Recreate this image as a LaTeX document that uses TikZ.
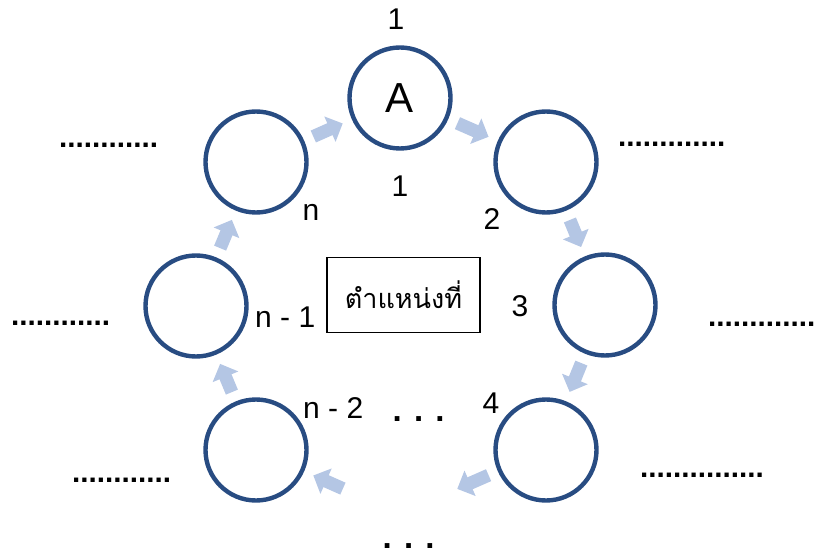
\documentclass[tikz,border=0pt]{standalone}
\usepackage{fontspec}
\setmainfont{Liberation Sans}
\newfontfamily\thaifont[Script=Thai]{Loma}
\usetikzlibrary{arrows.meta,calc}
\definecolor{ringc}{RGB}{40,76,130}
\definecolor{arrowc}{RGB}{180,198,228}
\tikzset{
  ring/.style={circle, draw=ringc, line width=4.4pt, minimum size=101pt, inner sep=0pt,
    font=\fontsize{42}{42}\selectfont},
  flowarr/.style={draw=arrowc, line width=13pt, -{Triangle[length=14pt,width=27pt]},
    shorten <=10pt, shorten >=10pt},
  lbl/.style={anchor=base, inner sep=0pt, font=\fontsize{30}{30}\selectfont},
  lblw/.style={anchor=base west, inner sep=0pt, font=\fontsize{30}{30}\selectfont},
  dotrow/.style={anchor=base west, inner sep=0pt, font=\bfseries\fontsize{29.7}{30}\selectfont},
  ellip/.style={anchor=base west, inner sep=0pt, font=\bfseries\fontsize{33}{33}\selectfont},
}
\begin{document}
\begin{tikzpicture}[x=1pt,y=-1pt]
\useasboundingbox (0,0) rectangle (816,553);
% circles
\node[ring] (A)  at (400,98) {A};
\node[ring] (TR) at (546,162) {};
\node[ring] (RM) at (605,305) {};
\node[ring] (BR) at (546,450) {};
\node[ring] (BL) at (256,450) {};
\node[ring] (LM) at (196,306) {};
\node[ring] (TL) at (256,162) {};
\coordinate (bot) at (400,514);
% arrows
\draw[flowarr] (TL) -- (A);
\draw[flowarr] (A) -- (TR);
\draw[flowarr] (TR) -- (RM);
\draw[flowarr] (RM) -- (BR);
\draw[flowarr, shorten >=62.5pt] (BR) -- (bot);
\draw[flowarr, shorten <=62.5pt] (bot) -- (BL);
\draw[flowarr] (BL) -- (LM);
\draw[flowarr] (LM) -- (TL);
% centre box
\node[draw, line width=1.3pt, minimum width=153pt, minimum height=75pt, inner sep=0pt,
  font=\thaifont\fontsize{27}{27}\selectfont] (box) at (403.5,295) {ตำแหน่งที่};
% labels
\node[lbl] (l1t) at (396,30) {1};
\node[lbl] (l1b) at (400,197) {1};
\node[lbl] (ln) at (311,221) {n};
\node[lbl] (l2) at (492,230) {2};
\node[lblw] (lnm1) at (255,327) {n - 1};
\node[lbl] (l3) at (520,316) {3};
\node[lblw] (lnm2) at (303,418) {n - 2};
\node[lbl] (l4) at (491,413) {4};
\node[ellip] (e1) at (392.5,421) {. . .};
\node[ellip] (e2) at (382.5,548) {. . .};
% dot rows
\node[dotrow] (d1) at (58.9,148) {............};
\node[dotrow] (d2) at (617.9,147) {.............};
\node[dotrow] (d3) at (707.9,326) {.............};
\node[dotrow] (d4) at (10.9,325) {............};
\node[dotrow] (d5) at (71.9,482) {............};
\node[dotrow] (d6) at (639.9,477) {...............};
\end{tikzpicture}
\end{document}
